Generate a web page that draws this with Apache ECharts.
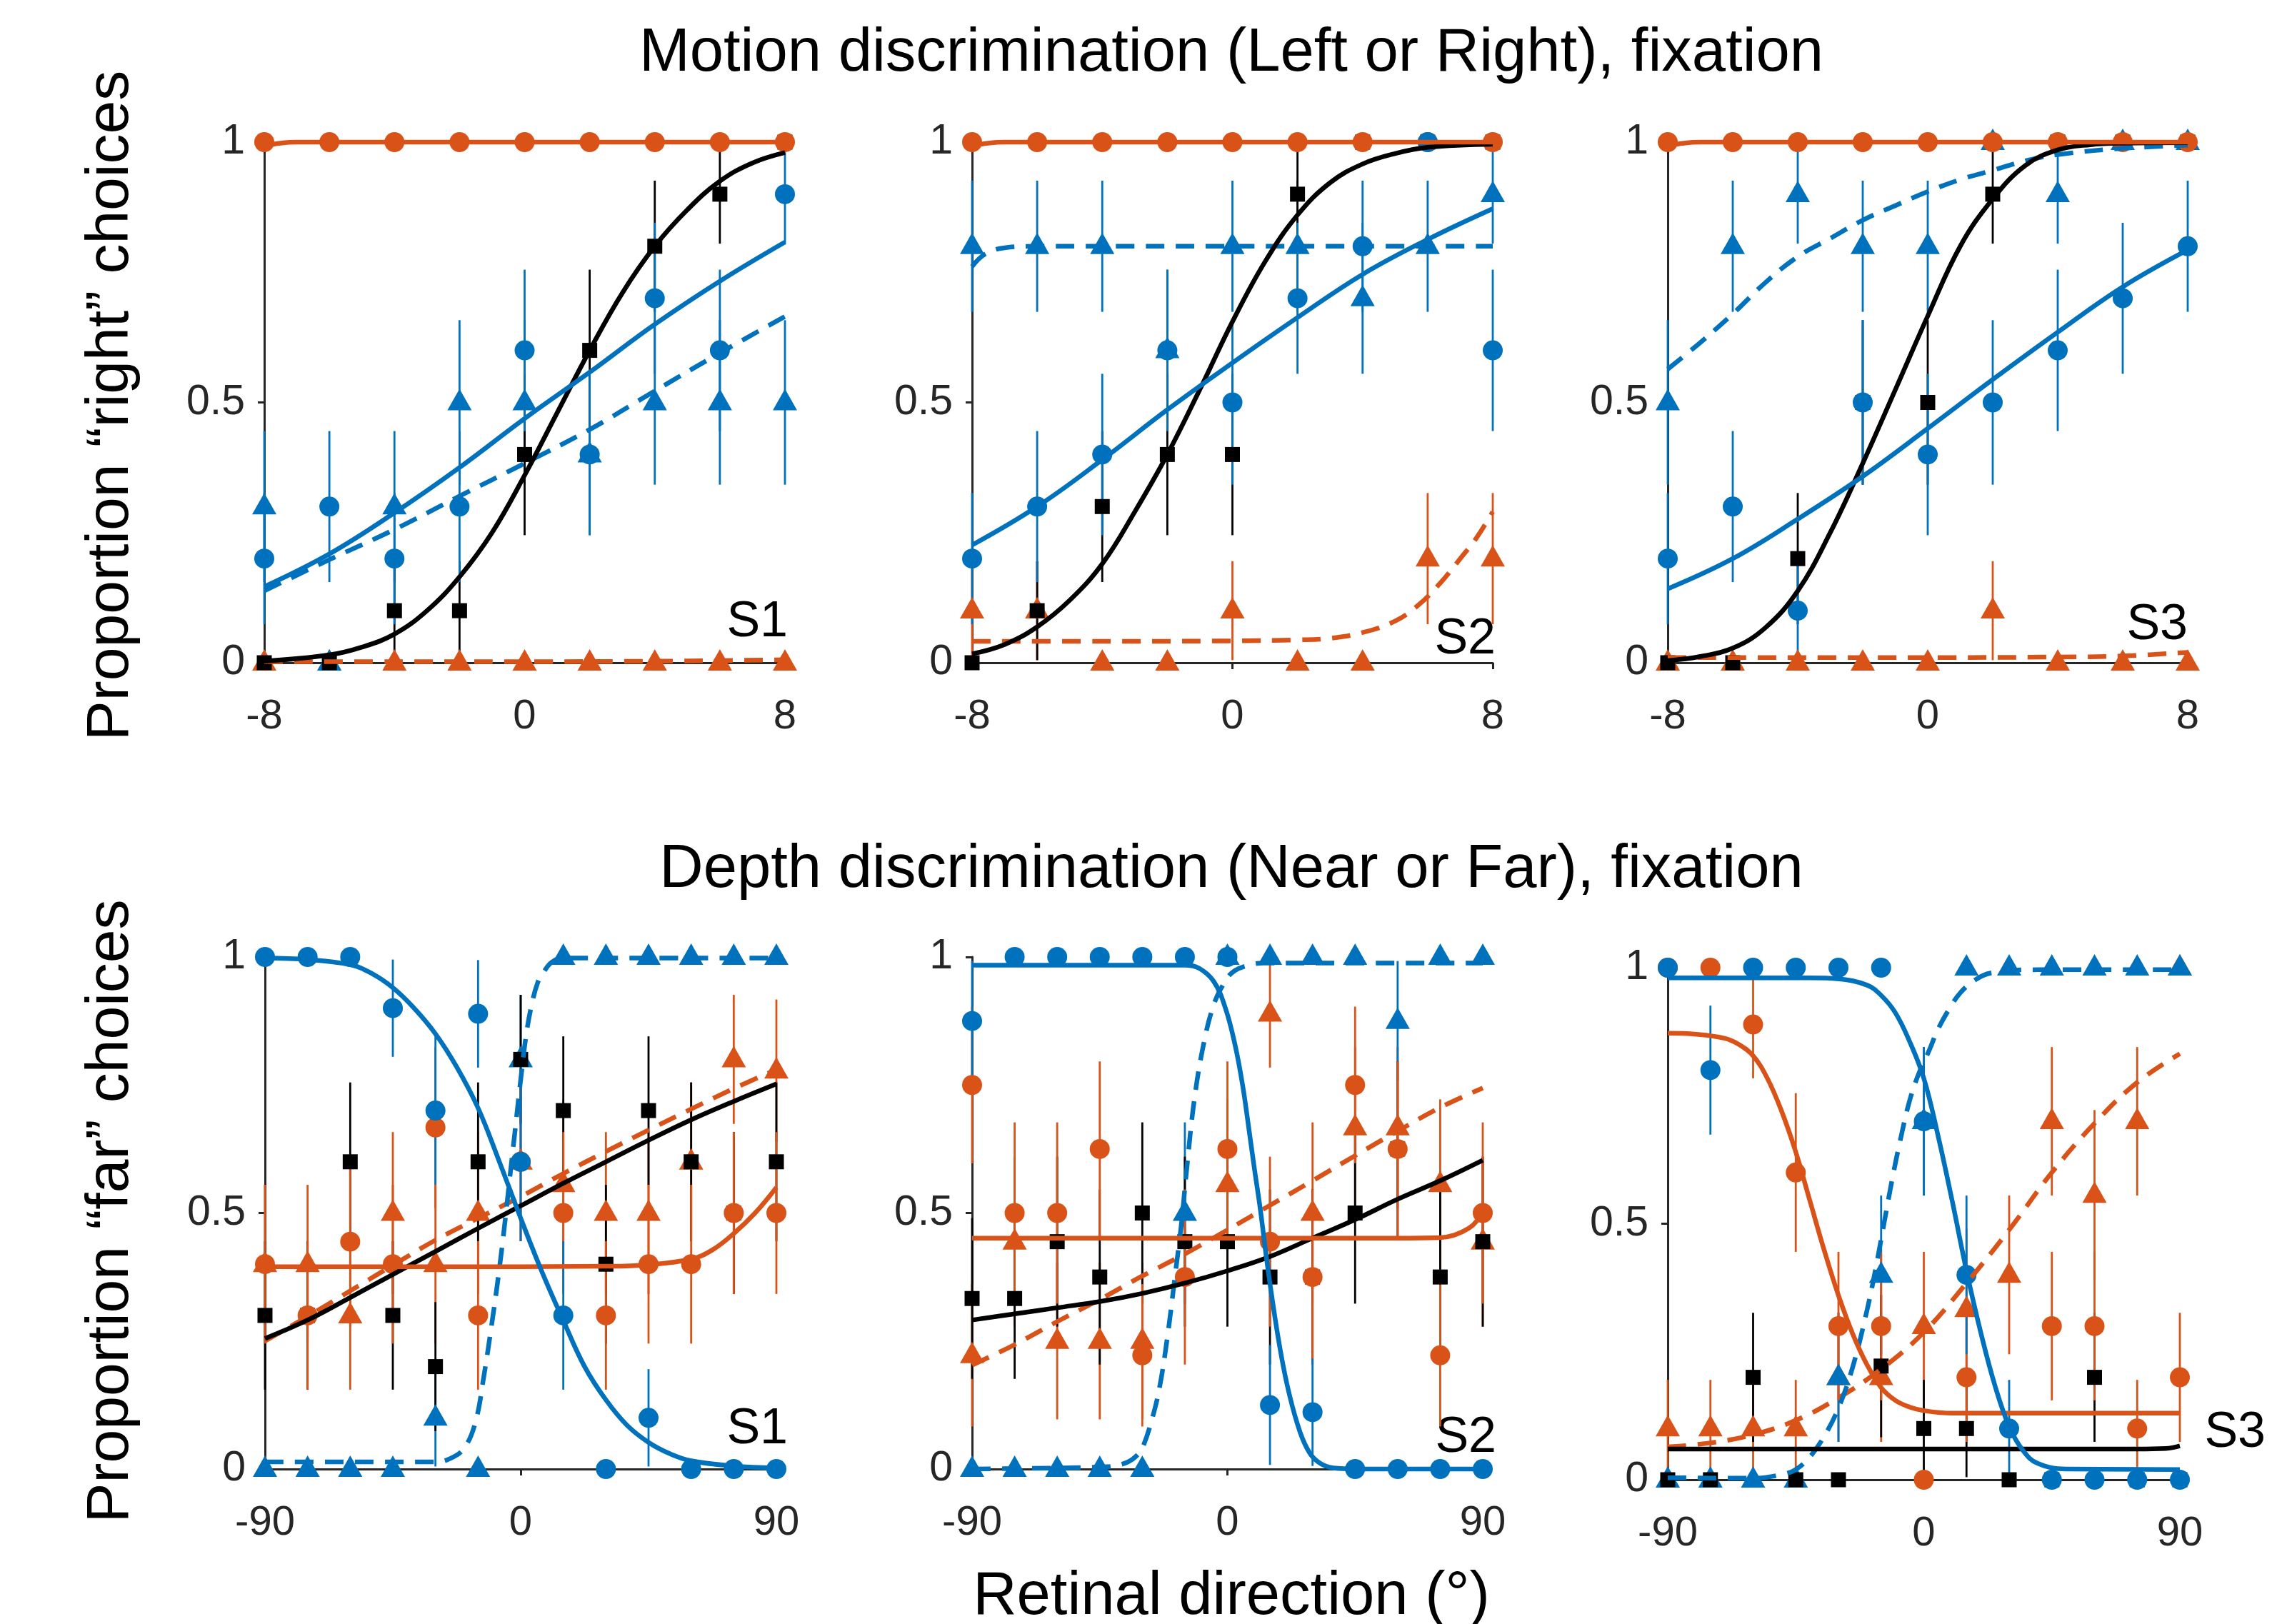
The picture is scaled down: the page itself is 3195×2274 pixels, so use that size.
<!DOCTYPE html>
<html><head><meta charset="utf-8">
<script src="https://cdn.jsdelivr.net/npm/echarts@6/dist/echarts.min.js"></script>
<style>html,body{margin:0;padding:0;background:#fff}#c{width:3195px;height:2274px}</style>
</head><body><div id="c"></div>
<script>
// ---------- categories / ticks ----------
const xMotion = [-8,-6,-4,-2,0,2,4,6,8];
const xDepth = [-90,-75,-60,-45,-30,-15,0,15,30,45,60,75,90];
const motionTicks = [-8,0,8];
const depthTicks = [-90,0,90];
const yTicks = [0,0.5,1];

// ---------- Motion S1 ----------
const m1_orangeCircle = [1,1,1,1,1,1,1,1,1];
const m1_orangeCircleErr = [0,0,0,0,0,0,0,0,0];
const m1_orangeTri = [0,0,0,0,0,0,0,0,0];
const m1_orangeTriErr = [0,0,0,0,0,0,0,0,0];
const m1_blueCircle = [0.2,0.3,0.2,0.3,0.6,0.4,0.7,0.6,0.9];
const m1_blueCircleErr = [0.126,0.145,0.126,0.145,0.155,0.155,0.145,0.155,0.095];
const m1_blueTri = [0.3,0,0.3,0.5,0.5,0.4,0.5,0.5,0.5];
const m1_blueTriErr = [0.145,0,0.145,0.158,0.158,0.155,0.158,0.158,0.158];
const m1_blackSq = [0,0,0.1,0.1,0.4,0.6,0.8,0.9,1];
const m1_blackSqErr = [0,0,0.095,0.095,0.155,0.155,0.126,0.095,0];
const m1_fitOrangeSolid = [[-8,0.993],[-7.5,0.998],[-7,1],[-4,1],[0,1],[4,1],[8,1]];
const m1_fitOrangeDashed = [[-8,0.002],[-4,0.002],[0,0.002],[4,0.003],[6,0.004],[8,0.006]];
const m1_fitBlack = [[-8,0.003],[-6,0.015],[-5,0.03],[-4,0.055],[-3,0.1],[-2,0.165],[-1,0.25],[0,0.36],[1,0.48],[2,0.6],[3,0.71],[4,0.8],[5,0.87],[6,0.925],[7,0.96],[8,0.98]];
const m1_fitBlueSolid = [[-8,0.146],[-6,0.209],[-4,0.288],[-2,0.375],[0,0.469],[2,0.558],[4,0.65],[6,0.733],[8,0.808]];
const m1_fitBlueDashed = [[-8,0.138],[-6,0.198],[-4,0.256],[-2,0.32],[0,0.383],[2,0.448],[4,0.522],[6,0.595],[8,0.665]];

// ---------- Motion S2 ----------
const m2_orangeCircle = [1,1,1,1,1,1,1,1,1];
const m2_orangeCircleErr = [0,0,0,0,0,0,0,0,0];
const m2_orangeTri = [0.1,0.1,0,0,0.1,0,0,0.2,0.2];
const m2_orangeTriErr = [0.095,0.095,0,0,0.095,0,0,0.126,0.126];
const m2_blueCircle = [0.2,0.3,0.4,0.6,0.5,0.7,0.8,1,0.6];
const m2_blueCircleErr = [0.126,0.145,0.155,0.155,0.158,0.145,0.126,0,0.155];
const m2_blueTri = [0.8,0.8,0.8,0.6,0.8,0.8,0.7,0.8,0.9];
const m2_blueTriErr = [0.126,0.126,0.126,0.155,0.126,0.126,0.145,0.126,0.095];
const m2_blackSq = [0,0.1,0.3,0.4,0.4,0.9,1,1,1];
const m2_blackSqErr = [0,0.095,0.145,0.155,0.155,0.095,0,0,0];
const m2_fitOrangeSolid = [[-8,0.993],[-7.5,0.998],[-7,1],[-4,1],[0,1],[4,1],[8,1]];
const m2_fitOrangeDashed = [[-8,0.041],[-4,0.041],[0,0.042],[2,0.044],[3,0.047],[4,0.058],[5,0.08],[5.7,0.11],[6.4,0.154],[7,0.2],[7.5,0.24],[8,0.29]];
const m2_fitBlack = [[-8,0.017],[-7,0.035],[-6,0.069],[-5,0.12],[-4,0.19],[-3,0.29],[-2,0.4],[-1,0.525],[0,0.655],[1,0.77],[2,0.86],[3,0.922],[4,0.958],[5,0.978],[6,0.99],[8,0.996]];
const m2_fitBlueSolid = [[-8,0.226],[-6,0.3],[-4,0.39],[-2,0.486],[0,0.576],[2,0.663],[4,0.746],[6,0.813],[8,0.872]];
const m2_fitBlueDashed = [[-8,0.761],[-7.6,0.785],[-7,0.797],[-6,0.8],[-4,0.8],[0,0.8],[4,0.8],[8,0.8]];

// ---------- Motion S3 ----------
const m3_orangeCircle = [1,1,1,1,1,1,1,1,1];
const m3_orangeCircleErr = [0,0,0,0,0,0,0,0,0];
const m3_orangeTri = [0,0,0,0,0,0.1,0,0,0];
const m3_orangeTriErr = [0,0,0,0,0,0.095,0,0,0];
const m3_blueCircle = [0.2,0.3,0.1,0.5,0.4,0.5,0.6,0.7,0.8];
const m3_blueCircleErr = [0.126,0.145,0.095,0.158,0.155,0.158,0.155,0.145,0.126];
const m3_blueTri = [0.5,0.8,0.9,0.8,0.8,1,0.9,1,1];
const m3_blueTriErr = [0.158,0.126,0.095,0.126,0.126,0,0.095,0,0];
const m3_blackSq = [0,0,0.2,0.5,0.5,0.9,1,1,1];
const m3_blackSqErr = [0,0,0.126,0.158,0.158,0.095,0,0,0];
const m3_fitOrangeSolid = [[-8,0.993],[-7.5,0.998],[-7,1],[-4,1],[0,1],[4,1],[8,1]];
const m3_fitOrangeDashed = [[-8,0.01],[0,0.01],[4,0.011],[6,0.013],[8,0.02]];
const m3_fitBlack = [[-8,0.004],[-7,0.012],[-6,0.028],[-5,0.067],[-4,0.138],[-3,0.25],[-2,0.383],[-1,0.524],[0,0.666],[1,0.8],[2,0.891],[3,0.955],[4,0.985],[5,0.995],[6,0.998],[8,0.999]];
const m3_fitBlueSolid = [[-8,0.142],[-6,0.2],[-4,0.276],[-2,0.358],[0,0.45],[2,0.544],[4,0.635],[6,0.722],[8,0.793]];
const m3_fitBlueDashed = [[-8,0.564],[-7,0.615],[-6,0.67],[-5,0.73],[-4,0.78],[-3,0.815],[-2,0.85],[-1,0.878],[0,0.905],[1,0.928],[2,0.946],[3,0.964],[4,0.976],[6,0.988],[8,0.994]];

// ---------- Depth S1 ----------
const d1_orangeCircle = [0.4,0.3,0.444,0.4,0.667,0.3,0.6,0.5,0.3,0.4,0.4,0.5,0.5];
const d1_orangeCircleErr = [0.155,0.145,0.166,0.155,0.157,0.145,0.155,0.158,0.145,0.155,0.155,0.158,0.158];
const d1_orangeTri = [0.4,0.4,0.3,0.5,0.4,0.5,0.6,0.556,0.5,0.5,0.6,0.8,0.778];
const d1_orangeTriErr = [0.155,0.155,0.145,0.158,0.155,0.158,0.155,0.166,0.158,0.158,0.155,0.126,0.139];
const d1_blueCircle = [1,1,1,0.9,0.7,0.889,0.6,0.3,0,0.1,0,0,0];
const d1_blueCircleErr = [0,0,0,0.095,0.145,0.105,0.155,0.145,0,0.095,0,0,0];
const d1_blueTri = [0,0,0,0,0.1,0,0.8,1,1,1,1,1,1];
const d1_blueTriErr = [0,0,0,0,0.095,0,0.126,0,0,0,0,0,0];
const d1_blackSq = [0.3,0.3,0.6,0.3,0.2,0.6,0.8,0.7,0.4,0.7,0.6,0.5,0.6];
const d1_blackSqErr = [0.145,0.145,0.155,0.145,0.126,0.155,0.126,0.145,0.155,0.145,0.155,0.158,0.155];
const d1_fitOrangeSolid = [[-90,0.395],[-30,0.395],[30,0.396],[45,0.399],[60,0.41],[67.5,0.428],[75,0.46],[82.5,0.5],[90,0.55]];
const d1_fitOrangeDashed = [[-90,0.25],[-75,0.298],[-60,0.348],[-45,0.398],[-30,0.447],[-15,0.49],[0,0.532],[15,0.577],[30,0.62],[45,0.662],[60,0.703],[75,0.743],[90,0.78]];
const d1_fitBlack = [[-90,0.255],[-75,0.291],[-60,0.335],[-45,0.38],[-30,0.425],[-15,0.47],[0,0.514],[15,0.558],[30,0.6],[45,0.642],[60,0.682],[75,0.718],[90,0.752]];
const d1_fitBlueSolid = [[-90,0.998],[-75,0.995],[-60,0.985],[-52.5,0.968],[-45,0.94],[-37.5,0.9],[-30,0.85],[-22.5,0.785],[-15,0.705],[-7.5,0.6],[0,0.49],[7.5,0.385],[15,0.29],[22.5,0.2],[30,0.135],[37.5,0.085],[45,0.052],[52.5,0.03],[60,0.016],[75,0.006],[90,0.002]];
const d1_fitBlueDashed = [[-90,0.014],[-30,0.014],[-25,0.02],[-20,0.04],[-16,0.09],[-13,0.18],[-10,0.29],[-8,0.37],[-6,0.46],[-4,0.56],[-2,0.66],[0,0.76],[2,0.85],[4,0.91],[6,0.95],[8,0.97],[11,0.99],[15,0.998],[30,0.998],[90,0.998]];

// ---------- Depth S2 ----------
const d2_orangeCircle = [0.75,0.5,0.5,0.625,0.222,0.375,0.625,0.444,0.375,0.75,0.625,0.222,0.5];
const d2_orangeCircleErr = [0.153,0.177,0.177,0.171,0.139,0.171,0.171,0.166,0.171,0.153,0.171,0.139,0.177];
const d2_orangeTri = [0.222,0.444,0.25,0.25,0.25,null,0.556,0.889,0.5,0.667,0.667,0.556,0.444];
const d2_orangeTriErr = [0.139,0.166,0.153,0.153,0.153,0,0.166,0.105,0.177,0.157,0.157,0.166,0.166];
const d2_blueCircle = [0.875,1,1,1,1,1,1,0.125,0.111,0,0,0,0];
const d2_blueCircleErr = [0.117,0,0,0,0,0,0,0.117,0.105,0,0,0,0];
const d2_blueTri = [0,0,0,0,0,0.5,1,1,1,1,0.875,1,1];
const d2_blueTriErr = [0,0,0,0,0,0.177,0,0,0,0,0.117,0,0];
const d2_blackSq = [0.333,0.333,0.444,0.375,0.5,0.444,0.444,0.375,0.375,0.5,0.625,0.375,0.444];
const d2_blackSqErr = [0.157,0.157,0.166,0.171,0.177,0.166,0.166,0.171,0.171,0.177,0.171,0.171,0.166];
const d2_fitOrangeSolid = [[-90,0.451],[0,0.451],[60,0.451],[75,0.452],[80,0.457],[85,0.47],[88,0.485],[90,0.505]];
const d2_fitOrangeDashed = [[-90,0.203],[-75,0.243],[-60,0.288],[-45,0.331],[-30,0.377],[-15,0.42],[0,0.467],[15,0.515],[30,0.563],[45,0.612],[60,0.66],[75,0.706],[90,0.744]];
const d2_fitBlack = [[-90,0.291],[-75,0.303],[-60,0.315],[-45,0.327],[-30,0.343],[-15,0.363],[0,0.387],[15,0.415],[30,0.451],[45,0.487],[60,0.527],[75,0.563],[90,0.603]];
const d2_fitBlueSolid = [[-90,0.984],[-40,0.984],[-15,0.984],[-10,0.978],[-4.8,0.952],[-0.7,0.9],[2.7,0.828],[5.4,0.748],[7.5,0.667],[9.5,0.587],[11.6,0.507],[13.6,0.419],[15.6,0.339],[18.3,0.243],[21.1,0.163],[24.5,0.091],[27.9,0.042],[31.9,0.014],[37.4,0.002],[45,0],[90,0]];
const d2_fitBlueDashed = [[-90,0],[-60,0.002],[-45,0.004],[-40,0.006],[-35,0.014],[-32,0.026],[-29.9,0.042],[-26.5,0.099],[-23.8,0.163],[-21.1,0.26],[-18.4,0.38],[-16.3,0.475],[-14.3,0.588],[-11.6,0.724],[-8.2,0.835],[-4.8,0.907],[-1.4,0.947],[2,0.971],[7.5,0.984],[12.9,0.988],[30,0.988],[90,0.988]];

// ---------- Depth S3 ----------
const d3_orangeCircle = [1,1,0.889,0.6,0.3,0.3,0,0.2,null,0.3,0.3,0.1,0.2];
const d3_orangeCircleErr = [0,0,0.105,0.155,0.145,0.145,0,0.126,0,0.145,0.145,0.095,0.126];
const d3_orangeTri = [0.1,0.1,0.1,0.1,0.2,0.2,0.3,0.333,0.4,0.7,0.556,0.7,1];
const d3_orangeTriErr = [0.095,0.095,0.095,0.095,0.126,0.126,0.145,0.157,0.155,0.145,0.166,0.145,0];
const d3_blueCircle = [1,0.8,1,1,1,1,0.7,0.4,0.1,0,0,0,0];
const d3_blueCircleErr = [0,0.126,0,0,0,0,0.145,0.155,0.095,0,0,0,0];
const d3_blueTri = [0,0,0,0,0.2,0.4,0.7,1,1,1,1,1,1];
const d3_blueTriErr = [0,0,0,0,0.126,0.155,0.145,0,0,0,0,0,0];
const d3_blackSq = [0,0,0.2,0,0,0.222,0.1,0.1,0,0,0.2,0,0];
const d3_blackSqErr = [0,0,0.126,0,0,0.139,0.095,0.095,0,0,0.126,0,0];
const d3_fitOrangeSolid = [[-90,0.872],[-80,0.87],[-70,0.862],[-65,0.85],[-60,0.828],[-55,0.784],[-50,0.72],[-45,0.64],[-40,0.544],[-35,0.448],[-30,0.36],[-25,0.285],[-20,0.225],[-15,0.18],[-10,0.155],[-5,0.142],[0,0.135],[10,0.13],[90,0.13]];
const d3_fitOrangeDashed = [[-90,0.064],[-75,0.072],[-60,0.088],[-45,0.116],[-30,0.16],[-15,0.216],[0,0.288],[15,0.384],[30,0.488],[45,0.6],[60,0.696],[75,0.776],[90,0.832]];
const d3_fitBlack = [[-90,0.06],[0,0.06],[75,0.06],[85,0.061],[90,0.066]];
const d3_fitBlueSolid = [[-90,0.98],[-40,0.98],[-30,0.978],[-20,0.966],[-15,0.946],[-10,0.912],[-5,0.856],[0,0.784],[5,0.672],[10,0.544],[15,0.408],[20,0.288],[25,0.184],[30,0.104],[35,0.056],[40,0.032],[50,0.021],[90,0.02]];
const d3_fitBlueDashed = [[-90,0.004],[-60,0.003],[-50,0.01],[-45,0.02],[-40,0.045],[-35,0.085],[-30,0.14],[-25,0.22],[-20,0.33],[-17,0.41],[-14,0.5],[-11,0.59],[-8,0.67],[-5,0.74],[-2,0.79],[2,0.84],[5,0.88],[9,0.92],[13,0.952],[18,0.976],[24,0.99],[40,0.996],[90,0.996]];

// ---------- build ----------
const FONT = '"Liberation Sans", Arial, Helvetica, sans-serif';
const ORANGE = '#D95319', BLUE = '#0072BD', BLACK = '#000000', AX = '#262626';

const panels = [
  {x:xMotion, ticks:motionTicks, grid:{left:370,top:199,width:729,height:729},
   oc:m1_orangeCircle, ocE:m1_orangeCircleErr, ot:m1_orangeTri, otE:m1_orangeTriErr, bc:m1_blueCircle, bcE:m1_blueCircleErr, bt:m1_blueTri, btE:m1_blueTriErr, k:m1_blackSq, kE:m1_blackSqErr,
   fOS:m1_fitOrangeSolid, fOD:m1_fitOrangeDashed, fK:m1_fitBlack, fBS:m1_fitBlueSolid, fBD:m1_fitBlueDashed},
  {x:xMotion, ticks:motionTicks, grid:{left:1361,top:199,width:729,height:729},
   oc:m2_orangeCircle, ocE:m2_orangeCircleErr, ot:m2_orangeTri, otE:m2_orangeTriErr, bc:m2_blueCircle, bcE:m2_blueCircleErr, bt:m2_blueTri, btE:m2_blueTriErr, k:m2_blackSq, kE:m2_blackSqErr,
   fOS:m2_fitOrangeSolid, fOD:m2_fitOrangeDashed, fK:m2_fitBlack, fBS:m2_fitBlueSolid, fBD:m2_fitBlueDashed},
  {x:xMotion, ticks:motionTicks, grid:{left:2335,top:199,width:728,height:729},
   oc:m3_orangeCircle, ocE:m3_orangeCircleErr, ot:m3_orangeTri, otE:m3_orangeTriErr, bc:m3_blueCircle, bcE:m3_blueCircleErr, bt:m3_blueTri, btE:m3_blueTriErr, k:m3_blackSq, kE:m3_blackSqErr,
   fOS:m3_fitOrangeSolid, fOD:m3_fitOrangeDashed, fK:m3_fitBlack, fBS:m3_fitBlueSolid, fBD:m3_fitBlueDashed},
  {x:xDepth, ticks:depthTicks, grid:{left:371,top:1340,width:716,height:717},
   oc:d1_orangeCircle, ocE:d1_orangeCircleErr, ot:d1_orangeTri, otE:d1_orangeTriErr, bc:d1_blueCircle, bcE:d1_blueCircleErr, bt:d1_blueTri, btE:d1_blueTriErr, k:d1_blackSq, kE:d1_blackSqErr,
   fOS:d1_fitOrangeSolid, fOD:d1_fitOrangeDashed, fK:d1_fitBlack, fBS:d1_fitBlueSolid, fBD:d1_fitBlueDashed},
  {x:xDepth, ticks:depthTicks, grid:{left:1361,top:1340,width:715,height:717},
   oc:d2_orangeCircle, ocE:d2_orangeCircleErr, ot:d2_orangeTri, otE:d2_orangeTriErr, bc:d2_blueCircle, bcE:d2_blueCircleErr, bt:d2_blueTri, btE:d2_blueTriErr, k:d2_blackSq, kE:d2_blackSqErr,
   fOS:d2_fitOrangeSolid, fOD:d2_fitOrangeDashed, fK:d2_fitBlack, fBS:d2_fitBlueSolid, fBD:d2_fitBlueDashed},
  {x:xDepth, ticks:depthTicks, grid:{left:2335,top:1355,width:717,height:717},
   oc:d3_orangeCircle, ocE:d3_orangeCircleErr, ot:d3_orangeTri, otE:d3_orangeTriErr, bc:d3_blueCircle, bcE:d3_blueCircleErr, bt:d3_blueTri, btE:d3_blueTriErr, k:d3_blackSq, kE:d3_blackSqErr,
   fOS:d3_fitOrangeSolid, fOD:d3_fitOrangeDashed, fK:d3_fitBlack, fBS:d3_fitBlueSolid, fBD:d3_fitBlueDashed}
];

const grids = [], xAxes = [], yAxes = [], series = [];

function errSeries(i, xs, vals, errs, color) {
  const data = [];
  xs.forEach((x, j) => {
    const v = vals[j], e = errs[j];
    if (v == null || !e) return;
    data.push([x, Math.max(0, v - e), Math.min(1, v + e)]);
  });
  return {
    type: 'custom', xAxisIndex: i, yAxisIndex: i, clip: false, silent: true,
    encode: {x: 0, y: [1, 2]}, data,
    renderItem: (params, api) => {
      const a = api.coord([api.value(0), api.value(1)]);
      const b = api.coord([api.value(0), api.value(2)]);
      return {type: 'line', shape: {x1: a[0], y1: a[1], x2: b[0], y2: b[1]},
              style: {stroke: color, lineWidth: 2.8}};
    }
  };
}
function markSeries(i, xs, vals, color, symbol, size, offset) {
  const data = [];
  xs.forEach((x, j) => { if (vals[j] != null) data.push([x, vals[j]]); });
  return {type: 'scatter', xAxisIndex: i, yAxisIndex: i, clip: false, silent: true,
          symbol, symbolSize: size, symbolOffset: offset || [0, 0],
          itemStyle: {color, opacity: 1, borderWidth: 0}, data};
}
function fitSeries(i, pts, color, dashed) {
  return {type: 'line', xAxisIndex: i, yAxisIndex: i, clip: false, silent: true,
          data: pts, showSymbol: false, symbol: 'none', smooth: 0.4,
          lineStyle: {color, width: 6.5, type: dashed ? [26, 16] : 'solid', cap: 'butt', join: 'round'}};
}

panels.forEach((p, i) => {
  grids.push(Object.assign({containLabel: false, outerBoundsMode: 'none', show: false}, p.grid));
  const xmin = p.ticks[0], xmax = p.ticks[p.ticks.length - 1];
  xAxes.push({
    type: 'value', gridIndex: i, min: xmin, max: xmax, interval: p.ticks[1] - p.ticks[0],
    position: 'bottom',
    axisLine: {show: true, onZero: false, lineStyle: {color: AX, width: 3}},
    axisTick: {show: true, inside: false, length: 9, lineStyle: {color: AX, width: 3}},
    axisLabel: {show: true, fontSize: 58, color: AX, fontFamily: FONT, margin: 47, showMinLabel: true, showMaxLabel: true},
    splitLine: {show: false}
  });
  yAxes.push({
    type: 'value', gridIndex: i, min: yTicks[0], max: yTicks[yTicks.length - 1], interval: yTicks[1] - yTicks[0],
    position: 'left',
    axisLine: {show: true, onZero: false, lineStyle: {color: AX, width: 3}},
    axisTick: {show: true, inside: false, length: 9, lineStyle: {color: AX, width: 3}},
    axisLabel: {show: true, fontSize: 59, color: AX, fontFamily: FONT, margin: 27, showMinLabel: true, showMaxLabel: true},
    splitLine: {show: false}
  });
  // orange triangles group
  series.push(errSeries(i, p.x, p.ot, p.otE, ORANGE));
  series.push(markSeries(i, p.x, p.ot, ORANGE, 'triangle', [34, 30], [0, -4]));
  series.push(fitSeries(i, p.fOD, ORANGE, true));
  // blue triangles group
  series.push(errSeries(i, p.x, p.bt, p.btE, BLUE));
  series.push(markSeries(i, p.x, p.bt, BLUE, 'triangle', [34, 30], [0, -4]));
  series.push(fitSeries(i, p.fBD, BLUE, true));
  // black squares group
  series.push(errSeries(i, p.x, p.k, p.kE, BLACK));
  series.push(markSeries(i, p.x, p.k, BLACK, 'rect', 21));
  series.push(fitSeries(i, p.fK, BLACK, false));
  // orange circles group
  series.push(errSeries(i, p.x, p.oc, p.ocE, ORANGE));
  series.push(markSeries(i, p.x, p.oc, ORANGE, 'circle', 28));
  series.push(fitSeries(i, p.fOS, ORANGE, false));
  // blue circles group
  series.push(errSeries(i, p.x, p.bc, p.bcE, BLUE));
  series.push(markSeries(i, p.x, p.bc, BLUE, 'circle', 28));
  series.push(fitSeries(i, p.fBS, BLUE, false));
});

function txt(x, y, text, size, opts) {
  return Object.assign({type: 'text', x, y, silent: true,
    style: Object.assign({text, fontSize: size, fontFamily: FONT, fill: '#000',
      align: 'center', verticalAlign: 'middle', textAlign: 'center', textVerticalAlign: 'middle'}, (opts && opts.style) || {})},
    (opts && opts.el) || {});
}
const rightStyle = {style: {align: 'right', textAlign: 'right'}};
const graphic = [
  txt(1724, 76, 'Motion discrimination (Left or Right), fixation', 85),
  txt(1724, 1219, 'Depth discrimination (Near or Far), fixation', 85),
  txt(1724, 2237, 'Retinal direction (\u00B0)', 85),
  txt(156, 568, 'Proportion \u201Cright\u201D choices', 84, {el: {rotation: Math.PI / 2}}),
  txt(156, 1696, 'Proportion \u201Cfar\u201D choices', 84, {el: {rotation: Math.PI / 2}}),
  txt(1103, 872, 'S1', 70, rightStyle),
  txt(2094, 896, 'S2', 70, rightStyle),
  txt(3063, 876, 'S3', 70, rightStyle),
  txt(1103, 2002, 'S1', 70, rightStyle),
  txt(2095, 2014, 'S2', 70, rightStyle),
  txt(3172, 2007, 'S3', 70, rightStyle)
];

const chart = echarts.init(document.getElementById('c'), null, {renderer: 'canvas', width: 3195, height: 2274});
chart.setOption({
  animation: false,
  backgroundColor: '#ffffff',
  grid: grids, xAxis: xAxes, yAxis: yAxes, series, graphic
});
</script></body></html>
